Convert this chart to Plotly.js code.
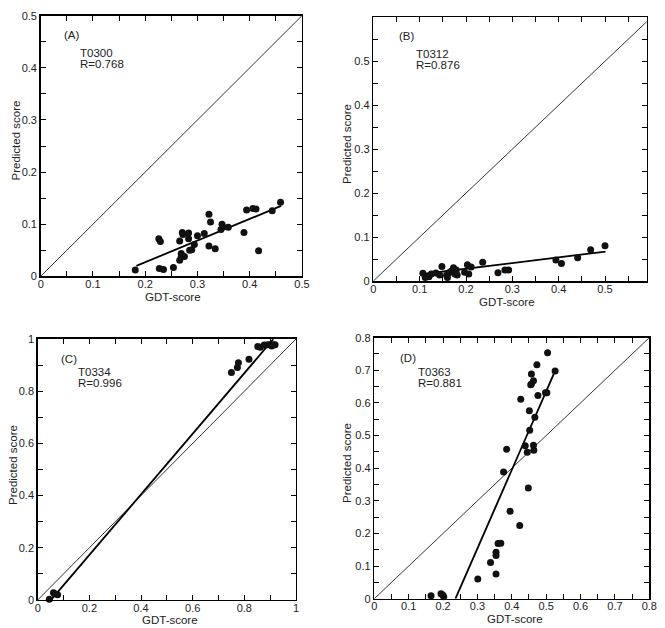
<!DOCTYPE html>
<html><head><meta charset="utf-8">
<script src="https://cdn.plot.ly/plotly-3.0.1.min.js"></script>
<style>html,body{margin:0;padding:0;background:#fff}#g{width:665px;height:628px}</style>
</head><body><div id="g"></div>
<script>
// Panel A: T0300
const aX = [0.181,0.227,0.235,0.254,0.226,0.229,0.266,0.266,0.269,0.269,0.275,0.271,0.272,0.283,0.283,0.285,0.289,0.294,0.300,0.313,0.322,0.325,0.322,0.334,0.345,0.347,0.348,0.359,0.389,0.394,0.406,0.412,0.417,0.443,0.459];
const aY = [0.012,0.015,0.013,0.017,0.072,0.067,0.068,0.031,0.038,0.044,0.038,0.084,0.080,0.083,0.072,0.050,0.051,0.061,0.078,0.082,0.119,0.104,0.058,0.053,0.090,0.100,0.095,0.094,0.084,0.127,0.130,0.129,0.049,0.126,0.142];
const aFitX = [0.183,0.460], aFitY = [0.020,0.135];
const aDiag = [0,0.5];
// Panel B: T0312
const bX = [0.107,0.112,0.120,0.125,0.135,0.143,0.148,0.158,0.160,0.163,0.168,0.173,0.176,0.179,0.181,0.197,0.203,0.206,0.211,0.236,0.269,0.284,0.292,0.394,0.406,0.441,0.469,0.500];
const bY = [0.0175,0.008,0.010,0.016,0.018,0.014,0.033,0.013,0.008,0.019,0.022,0.030,0.016,0.025,0.014,0.020,0.037,0.016,0.032,0.043,0.019,0.025,0.025,0.048,0.040,0.053,0.071,0.080];
const bFitX = [0.107,0.501], bFitY = [0.016,0.067];
const bDiag = [0,0.6];
// Panel C: T0334
const cX = [0.045,0.061,0.066,0.077,0.750,0.773,0.777,0.818,0.852,0.862,0.877,0.890,0.899,0.906,0.912,0.919];
const cY = [0.003,0.028,0.024,0.020,0.872,0.891,0.909,0.922,0.971,0.968,0.977,0.978,0.978,0.973,0.978,0.978];
const cFitX = [0.054,0.912], cFitY = [0.003,0.999];
const cDiag = [0,1];
// Panel D: T0363
const dX = [0.165,0.194,0.199,0.202,0.301,0.338,0.354,0.354,0.354,0.360,0.368,0.376,0.385,0.395,0.423,0.426,0.439,0.445,0.448,0.451,0.452,0.455,0.457,0.457,0.463,0.463,0.464,0.467,0.473,0.476,0.498,0.502,0.504,0.526];
const dY = [0.009,0.015,0.011,0.006,0.060,0.111,0.076,0.132,0.142,0.169,0.170,0.388,0.458,0.268,0.224,0.611,0.469,0.449,0.339,0.576,0.516,0.656,0.689,0.658,0.668,0.470,0.455,0.556,0.717,0.623,0.631,0.631,0.754,0.698];
const dFitX = [0.236,0.526], dFitY = [0.000,0.698];
const dDiag = [0,0.8];

// Tick positions and labels
const tick05 = [0,0.05,0.1,0.15,0.2,0.25,0.3,0.35,0.4,0.45,0.5];
const text05 = ['0','','0.1','','0.2','','0.3','','0.4','','0.5'];
const tickB = [0,0.05,0.1,0.15,0.2,0.25,0.3,0.35,0.4,0.45,0.5,0.55];
const textB = ['0','','0.1','','0.2','','0.3','','0.4','','0.5',''];
const tick10 = [0,0.1,0.2,0.3,0.4,0.5,0.6,0.7,0.8,0.9,1];
const text10 = ['0','','0.2','','0.4','','0.6','','0.8','','1'];
const tick08 = [0,0.05,0.1,0.15,0.2,0.25,0.3,0.35,0.4,0.45,0.5,0.55,0.6,0.65,0.7,0.75,0.8];
const text08 = ['0','','0.1','','0.2','','0.3','','0.4','','0.5','','0.6','','0.7','','0.8'];

const panels = [
  {x:aX,y:aY,fx:aFitX,fy:aFitY,diag:aDiag,tag:'(A)',id:'T0300',r:'R=0.768',
   xd:[0.0612,0.4541],yd:[0.560,0.975],xr:[0,0.5],yr:[0,0.5],
   xt:[tick05,text05],yt:[tick05,text05],
   lab:[[0.040,0.463],[0.072,0.428],[0.072,0.407]],
   xtitle:[173,297],ytitle:[15.5,141]},
  {x:bX,y:bY,fx:bFitX,fy:bFitY,diag:bDiag,tag:'(B)',id:'T0312',r:'R=0.876',
   xd:[0.5614,0.9725],yd:[0.5525,0.9725],xr:[0,0.59],yr:[0,0.6],
   xt:[tickB,textB],yt:[tickB,textB],
   lab:[[0.050,0.558],[0.087,0.517],[0.087,0.491]],
   xtitle:[507,302],ytitle:[347,144]},
  {x:cX,y:cY,fx:cFitX,fy:cFitY,diag:cDiag,tag:'(C)',id:'T0334',r:'R=0.996',
   xd:[0.0567,0.4451],yd:[0.0446,0.4602],xr:[0,1],yr:[0,1],
   xt:[tick10,text10],yt:[tick10,text10],
   lab:[[0.084,0.922],[0.148,0.872],[0.148,0.832]],
   xtitle:[170,620],ytitle:[13,465]},
  {x:dX,y:dY,fx:dFitX,fy:dFitY,diag:dDiag,tag:'(D)',id:'T0363',r:'R=0.881',
   xd:[0.5629,0.9764],yd:[0.0467,0.4623],xr:[0,0.8],yr:[0,0.8],
   xt:[tick08,text08],yt:[tick08,text08],
   lab:[[0.068,0.737],[0.122,0.696],[0.122,0.662]],
   xtitle:[515,619],ytitle:[347,463]}
];

const W = 665, H = 628;
const FONT = 'Liberation Sans, Arial, Helvetica, sans-serif';
const TXT = '#222';
const traces = [];
const layout = {
  width:W,height:H,margin:{l:0,r:0,t:0,b:0},
  paper_bgcolor:'#fff',plot_bgcolor:'#fff',showlegend:false,
  font:{family:FONT,size:11,color:TXT},annotations:[]
};
function ax(domain, range, tv, tt, anchor, isX){
  const a = {domain, range, anchor, tickmode:'array', tickvals:tv, ticktext:tt,
    ticks:'inside', ticklen:5, tickwidth:1, tickcolor:'#000',
    mirror:'allticks', showline:true, linecolor:'#000', linewidth:1.5, showgrid:false, zeroline:false,
    tickfont:{family:FONT,size:11,color:TXT}, automargin:false};
  if (isX) a.ticklabelstandoff = -3;
  return a;
}
panels.forEach((p,i)=>{
  const n = i===0?'':String(i+1);
  const xa = 'x'+n, ya = 'y'+n;
  traces.push({x:p.diag,y:p.diag,xaxis:xa,yaxis:ya,mode:'lines',line:{color:'#000',width:0.8},hoverinfo:'skip'});
  traces.push({x:p.fx,y:p.fy,xaxis:xa,yaxis:ya,mode:'lines',line:{color:'#000',width:1.8},hoverinfo:'skip'});
  traces.push({x:p.x,y:p.y,xaxis:xa,yaxis:ya,mode:'markers',marker:{color:'#111',size:7},cliponaxis:false});
  layout['xaxis'+n] = ax(p.xd,p.xr,p.xt[0],p.xt[1],ya,true);
  layout['yaxis'+n] = ax(p.yd,p.yr,p.yt[0],p.yt[1],xa,false);
  [p.tag,p.id,p.r].forEach((t,k)=>{
    layout.annotations.push({text:t,xref:xa,yref:ya,x:p.lab[k][0],y:p.lab[k][1],xanchor:'left',yanchor:'middle',
      showarrow:false,font:{family:FONT,size:11.5,color:TXT}});
  });
  // axis titles
  layout.annotations.push({text:'GDT-score',xref:'paper',yref:'paper',x:p.xtitle[0]/W,y:1-p.xtitle[1]/H,
    xanchor:'center',yanchor:'middle',showarrow:false,font:{family:FONT,size:11.5,color:TXT}});
  layout.annotations.push({text:'Predicted score',xref:'paper',yref:'paper',x:p.ytitle[0]/W,y:1-p.ytitle[1]/H,
    xanchor:'center',yanchor:'middle',textangle:-90,showarrow:false,font:{family:FONT,size:11.5,color:TXT}});
});
Plotly.newPlot('g',traces,layout,{staticPlot:true});
</script></body></html>
